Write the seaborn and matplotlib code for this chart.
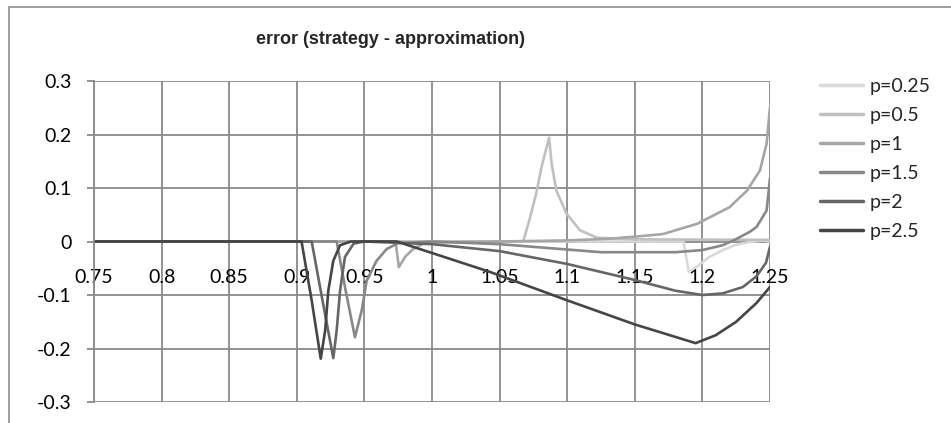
import matplotlib
matplotlib.use('Agg')
import matplotlib.pyplot as plt
from matplotlib.lines import Line2D
import seaborn as sns
import pandas as pd

# values
labels = ['p=0.25', 'p=0.5', 'p=1', 'p=1.5', 'p=2', 'p=2.5']
colors = ['#d9d9d9', '#c0c0c0', '#a6a6a6', '#888888', '#666666', '#454545']

x_p025 = [0.75, 1.186, 1.190, 1.197, 1.205, 1.215, 1.225, 1.235, 1.245, 1.25]
y_p025 = [0.0, 0.0, -0.057, -0.045, -0.029, -0.016, -0.006, -0.001, 0.002, 0.0]

x_p05 = [0.75, 1.0675, 1.072, 1.077, 1.081, 1.0866, 1.0885, 1.092, 1.0995,
         1.1095, 1.122, 1.15, 1.25]
y_p05 = [0.0, 0.0, 0.04, 0.089, 0.139, 0.194, 0.145, 0.095, 0.052,
         0.021, 0.007, 0.004, 0.003]

x_p1 = [0.75, 0.973, 0.9755, 0.980, 0.986, 0.995, 1.05, 1.1, 1.13, 1.15,
        1.171, 1.196, 1.22, 1.233, 1.2426, 1.2475, 1.25]
y_p1 = [0.0, 0.0, -0.048, -0.029, -0.014, -0.002, 0.0, 0.002, 0.005, 0.009,
        0.014, 0.033, 0.064, 0.095, 0.133, 0.183, 0.251]

x_p15 = [0.75, 0.9295, 0.936, 0.943, 0.948, 0.9517, 0.959, 0.9665, 0.975,
         1.0, 1.05, 1.1, 1.125, 1.18, 1.2, 1.215, 1.223, 1.235, 1.24, 1.2475, 1.25]
y_p15 = [0.0, 0.0, -0.09, -0.179, -0.129, -0.073, -0.036, -0.014, -0.003,
         0.0, -0.005, -0.015, -0.02, -0.02, -0.016, -0.007, 0.002, 0.018, 0.027, 0.058, 0.118]

x_p2 = [0.75, 0.911, 0.919, 0.927, 0.9295, 0.932, 0.9356, 0.942, 0.95,
        1.0, 1.05, 1.1, 1.15, 1.18, 1.2, 1.215, 1.23, 1.24, 1.247, 1.25]
y_p2 = [0.0, 0.0, -0.11, -0.218, -0.166, -0.092, -0.029, -0.004, 0.0,
        -0.005, -0.018, -0.042, -0.072, -0.092, -0.1, -0.097, -0.085, -0.065, -0.04, -0.01]

x_p25 = [0.75, 0.9035, 0.911, 0.9177, 0.921, 0.9233, 0.927, 0.932, 0.94,
         0.974, 1.043, 1.1, 1.15, 1.195, 1.21, 1.225, 1.24, 1.25]
y_p25 = [0.0, 0.0, -0.11, -0.219, -0.166, -0.092, -0.036, -0.007, 0.0,
         0.0, -0.057, -0.11, -0.155, -0.19, -0.175, -0.15, -0.115, -0.085]

series = [(x_p025, y_p025), (x_p05, y_p05), (x_p1, y_p1),
          (x_p15, y_p15), (x_p2, y_p2), (x_p25, y_p25)]

frames = []
for lab, (xs, ys) in zip(labels, series):
    frames.append(pd.DataFrame({'x': xs, 'y': ys, 'p': lab}))
df = pd.concat(frames, ignore_index=True)

sns.set_theme(style='white')
plt.rcParams['font.family'] = ['Lato', 'DejaVu Sans']

fig = plt.figure(figsize=(9.51, 4.23), dpi=100)
ax = fig.add_axes([94 / 951, 21 / 423, 676 / 951, 321 / 423])

sns.lineplot(data=df, x='x', y='y', hue='p', palette=colors, hue_order=labels,
             sort=False, estimator=None, linewidth=1.9, legend=False, ax=ax)

grid_c = '#8a8a8a'
ax.set_xlim(0.75, 1.25)
ax.set_ylim(-0.3, 0.3)
xt = [0.75, 0.8, 0.85, 0.9, 0.95, 1, 1.05, 1.1, 1.15, 1.2, 1.25]
yt = [-0.3, -0.2, -0.1, 0, 0.1, 0.2, 0.3]
ax.set_xticks(xt)
ax.set_xticklabels([f'{v:g}' for v in xt])
ax.set_yticks(yt)
ax.set_yticklabels([f'{v:g}' for v in yt])
ax.grid(True, color=grid_c, linewidth=1.3)
ax.set_axisbelow(True)
ax.set_xlabel('')
ax.set_ylabel('')

for s in ['top', 'right']:
    ax.spines[s].set_visible(False)
ax.spines['left'].set_color(grid_c)
ax.spines['left'].set_linewidth(1.3)
ax.spines['bottom'].set_position(('data', 0))
ax.spines['bottom'].set_visible(False)
ax.tick_params(axis='x', length=0, pad=20, labelsize=14, colors='black')
ax.tick_params(axis='y', length=5, width=1.3, color=grid_c, pad=11, labelsize=14,
               labelcolor='black', left=True)

fig.text(390 / 951, 1 - 40 / 423, 'error (strategy - approximation)',
         ha='center', va='center', fontsize=13, fontweight='bold',
         family=['Liberation Sans', 'DejaVu Sans'])

handles = [Line2D([], [], color=c, linewidth=2.5) for c in colors]
leg = fig.legend(handles, labels, loc='upper left',
                 bbox_to_anchor=(820 / 951, 1 - 78 / 423), frameon=False,
                 fontsize=14, handlelength=2.2, handletextpad=0.35,
                 labelspacing=0.62, borderaxespad=0, borderpad=0)

border = plt.Rectangle((9 / 951, -0.1), 1.5, 1.1 - 7 / 423,
                       transform=fig.transFigure, fill=False,
                       edgecolor='#8c8c8c', linewidth=1.2)
fig.patches.append(border)

fig.savefig('out.png', dpi=100)
